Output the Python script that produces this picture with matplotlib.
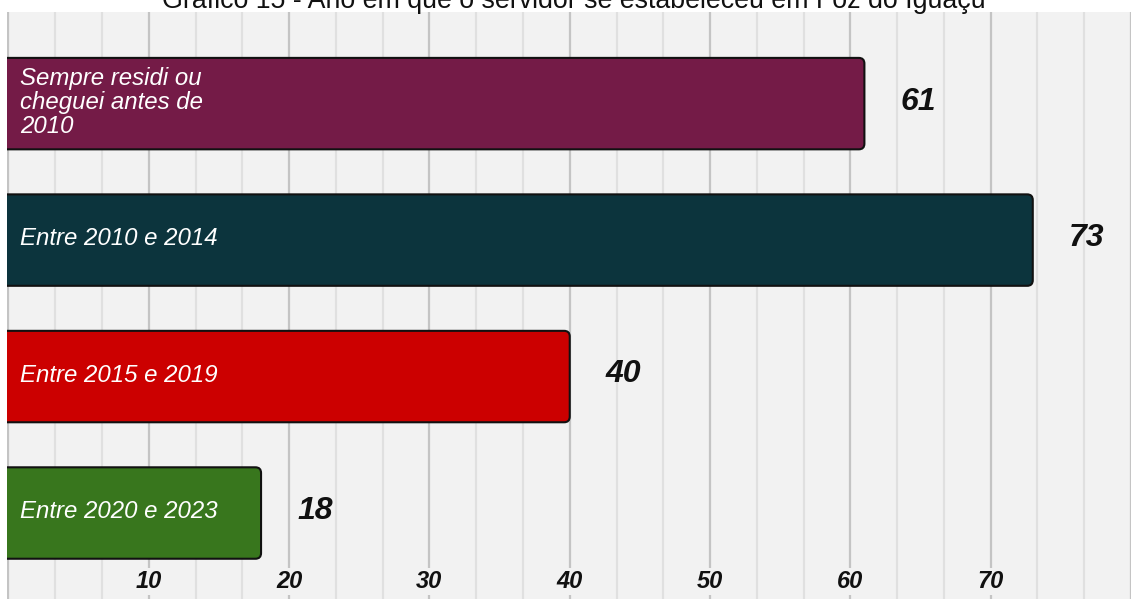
import numpy as np
import matplotlib
matplotlib.use("Agg")
import matplotlib.pyplot as plt
from matplotlib.patches import FancyBboxPatch

# Data
categories = [
    "Sempre residi ou\ncheguei antes de\n2010",
    "Entre 2010 e 2014",
    "Entre 2015 e 2019",
    "Entre 2020 e 2023",
]
values = [61, 73, 40, 18]
colors = ["#741b47", "#0c343d", "#cc0000", "#38761d"]
tick_values = [10, 20, 30, 40, 50, 60, 70]
title = "Gráfico 15 - Ano em que o servidor se estabeleceu em Foz do Iguaçu"

W, H, DPI = 1131, 599, 100
fig = plt.figure(figsize=(W / DPI, H / DPI), dpi=DPI, facecolor="white")
ax = fig.add_axes([7 / W, 0, 1 - 7 / W, 1 - 11.5 / H])
ax.set_facecolor("#f2f2f2")

xmin, xmax = -0.106, 79.33
ymin, ymax = -0.675, 3.63
ax.set_xlim(xmin, xmax)
ax.set_ylim(ymax, ymin)

# Grid: major every 10, two minor lines in between
ax.set_xticks(np.arange(0, 81, 10))
ax.set_xticks([m for m in np.arange(0, 80, 10 / 3) if abs(m / 10 - round(m / 10)) > 1e-6], minor=True)
ax.grid(which="major", axis="x", color="#c4c4c4", lw=1.6, zorder=0)
ax.grid(which="minor", axis="x", color="#e0e0e0", lw=1.6, zorder=0)
ax.set_axisbelow(True)
ax.tick_params(which="both", length=0, labelbottom=False, labelleft=False)
ax.set_yticks([])
for s in ax.spines.values():
    s.set_visible(False)

# Pixel-per-unit ratio, used to keep the corner rounding circular
ax_w_px = W - 7
ax_h_px = H - 11.5
px_per_x = ax_w_px / (xmax - xmin)
px_per_y = ax_h_px / (ymax - ymin)
aspect = px_per_x / px_per_y

bar_h = 0.67
for i, (cat, val, col) in enumerate(zip(categories, values, colors)):
    box = FancyBboxPatch(
        (-1.0, i - bar_h / 2), val + 1.0, bar_h,
        boxstyle="round,pad=0,rounding_size=0.4",
        mutation_aspect=aspect,
        fc=col, ec="#111111", lw=1.5, zorder=2,
    )
    ax.add_patch(box)
    ax.text(0.8, i - 0.01, cat, color="white", fontsize=17.3, fontstyle="italic",
            family="Liberation Sans", ha="left", va="center", linespacing=1.05, zorder=3)
    ax.annotate(str(val), xy=(val, i), xytext=(26, 1.5), textcoords="offset points",
                ha="left", va="center", fontsize=23, fontstyle="italic",
                fontweight="bold", family="Liberation Sans", color="#111111", zorder=3)

# Value axis labels drawn inside the plot, interrupting the grid lines
for t in tick_values:
    ax.text(t, 3.5, str(t), ha="center", va="center", fontsize=17,
            fontstyle="italic", fontweight="bold", family="Liberation Sans",
            color="#111111", zorder=3,
            bbox=dict(fc="#f2f2f2", ec="none", pad=1.5))

fig.text(573.5 / W, 1 - 7.5 / H, title, ha="center", va="baseline", fontsize=19.3,
         family="Liberation Sans", color="#111111")

fig.savefig("out.png", dpi=DPI, facecolor="white")
